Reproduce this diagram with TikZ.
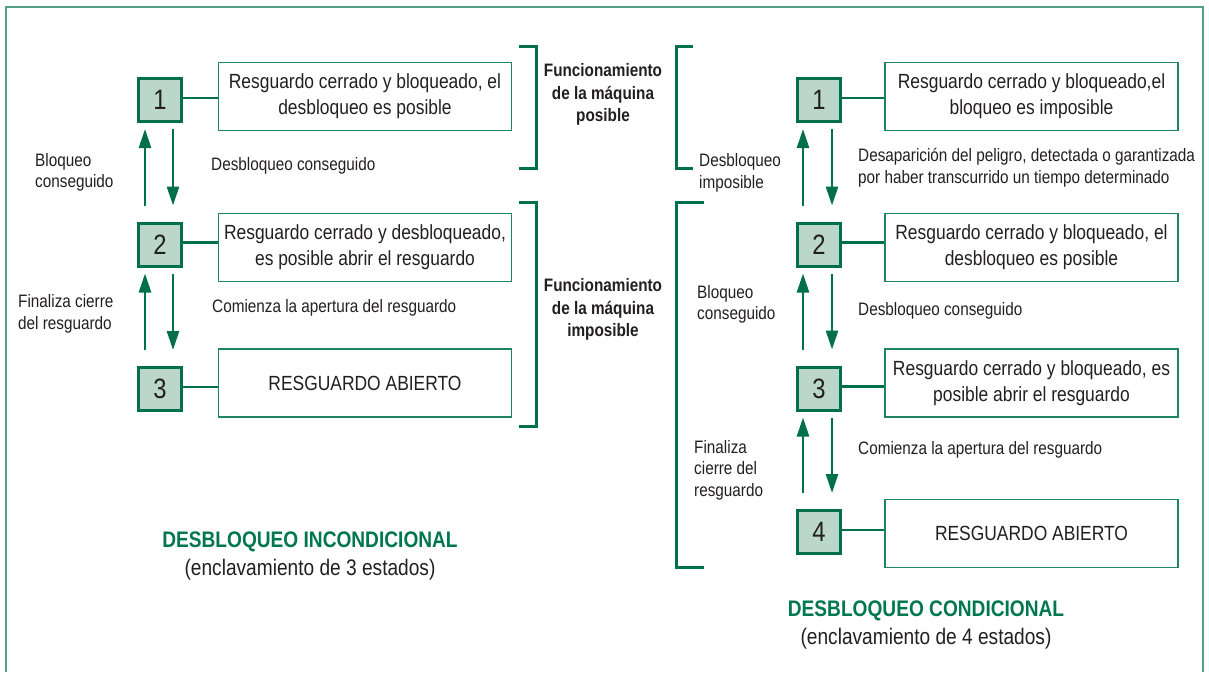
\documentclass[tikz,border=0pt]{standalone}
\usepackage{fontspec}
\setmainfont{Liberation Sans}[FakeStretch=0.85]
\usetikzlibrary{arrows.meta}
\definecolor{dkgreen}{HTML}{00704C}
\definecolor{boxgreen}{HTML}{1E8462}
\definecolor{sqfill}{HTML}{BBD7CB}
\definecolor{framegreen}{HTML}{55A085}
\definecolor{headgreen}{HTML}{00774F}
\definecolor{txt}{HTML}{231F20}
\tikzset{
  sqbox/.style={draw=dkgreen, line width=3pt, fill=sqfill, minimum size=43pt, inner sep=0pt,
    text=txt, font=\fontsize{28}{28}\selectfont},
  statebox/.style={draw=boxgreen, line width=1.8pt, minimum width=293pt, minimum height=68pt,
    inner sep=2pt, align=center, text=txt, font=\fontsize{20.5}{26}\selectfont},
  conn/.style={draw=dkgreen, line width=2.6pt},
  arr/.style={draw=dkgreen, line width=2.6pt, -{Triangle[length=19pt,width=12pt]}},
  bracket/.style={draw=dkgreen, line width=3pt},
  lbl/.style={inner sep=0pt, align=left, text=txt, font=\fontsize{18}{21.5}\selectfont},
  boldlbl/.style={inner sep=0pt, align=center, text=txt, font=\fontsize{18}{22.5}\selectfont\bfseries},
  heading/.style={inner sep=0pt, text=headgreen, font=\fontsize{22.5}{26}\selectfont\bfseries},
  subhead/.style={inner sep=0pt, text=txt, font=\fontsize{22.5}{26}\selectfont}
}
\begin{document}
\begin{tikzpicture}[x=1pt,y=-1pt]
\useasboundingbox (0,0) rectangle (1209,672);
% outer frame
\draw[draw=framegreen, line width=2pt] (6,672) -- (6,7) -- (1203,7) -- (1203,672);

% ---------------- left diagram ----------------
\node[sqbox] (sqL1) at (160,100) {1};
\node[sqbox] (sqL2) at (160,244.5) {2};
\node[sqbox] (sqL3) at (160,389) {3};
\node[statebox] (boxL1) at (365,96.5) {Resguardo cerrado y bloqueado, el\\desbloqueo es posible};
\node[statebox] (boxL2) at (365,247.5) {Resguardo cerrado y desbloqueado,\\es posible abrir el resguardo};
\node[statebox] (boxL3) at (365,383) {RESGUARDO ABIERTO};
\foreach \i in {1,2,3}{
  \draw[conn] ([yshift=2pt]sqL\i.east) -- ([yshift=2pt]sqL\i.east -| boxL\i.west);
}
\draw[arr] ([xshift=-15pt,yshift=16pt]sqL2.north) -- ([xshift=-15pt,yshift=-6pt]sqL1.south);
\draw[arr] ([xshift=13pt,yshift=-6pt]sqL1.south) -- ([xshift=13pt,yshift=16pt]sqL2.north);
\draw[arr] ([xshift=-15pt,yshift=16pt]sqL3.north) -- ([xshift=-15pt,yshift=-6pt]sqL2.south);
\draw[arr] ([xshift=13pt,yshift=-6pt]sqL2.south) -- ([xshift=13pt,yshift=16pt]sqL3.north);

\node[lbl, anchor=west] (lL1) at (35,172.5) {Bloqueo\\conseguido};
\node[lbl, anchor=west] (lL2) at (211,166) {Desbloqueo conseguido};
\node[lbl, anchor=west] (lL3) at (18,314) {Finaliza cierre\\del resguardo};
\node[lbl, anchor=west] (lL4) at (212,308) {Comienza la apertura del resguardo};

\draw[bracket] (519,46) -- (536,46) -- (536,168) -- (519,168);
\draw[bracket] (519,202) -- (536,202) -- (536,426) -- (519,426);
\node[boldlbl] (fp) at (603,94.5) {Funcionamiento\\de la máquina\\posible};
\node[boldlbl] (fi) at (603,309.5) {Funcionamiento\\de la máquina\\imposible};

\node[heading] (hL) at (310,542) {DESBLOQUEO INCONDICIONAL};
\node[subhead] (sL) at (310,570) {(enclavamiento de 3 estados)};

% ---------------- right diagram ----------------
\draw[bracket] (693,46) -- (676,46) -- (676,168) -- (693,168);
\draw[bracket] (704,202) -- (676,202) -- (676,567) -- (704,567);

\node[sqbox] (sqR1) at (819,100) {1};
\node[sqbox] (sqR2) at (819,244.5) {2};
\node[sqbox] (sqR3) at (819,388.5) {3};
\node[sqbox] (sqR4) at (819,532) {4};
\node[statebox] (boxR1) at (1031.5,96.5) {Resguardo cerrado y bloqueado,el\\bloqueo es imposible};
\node[statebox] (boxR2) at (1031.5,247.5) {Resguardo cerrado y bloqueado, el\\desbloqueo es posible};
\node[statebox] (boxR3) at (1031.5,383) {Resguardo cerrado y bloqueado, es\\posible abrir el resguardo};
\node[statebox] (boxR4) at (1031.5,533.5) {RESGUARDO ABIERTO};
\foreach \i in {1,2,3,4}{
  \draw[conn] ([yshift=2pt]sqR\i.east) -- ([yshift=2pt]sqR\i.east -| boxR\i.west);
}
\foreach \a/\b in {1/2,2/3,3/4}{
  \draw[arr] ([xshift=-16pt,yshift=16pt]sqR\b.north) -- ([xshift=-16pt,yshift=-6pt]sqR\a.south);
  \draw[arr] ([xshift=13pt,yshift=-6pt]sqR\a.south) -- ([xshift=13pt,yshift=16pt]sqR\b.north);
}

\node[lbl, anchor=west] (lR1) at (699,173) {Desbloqueo\\imposible};
\node[lbl, anchor=west] (lR2) at (858,167.5) {Desaparición del peligro, detectada o garantizada\\por haber transcurrido un tiempo determinado};
\node[lbl, anchor=west] (lR3) at (697,304.5) {Bloqueo\\conseguido};
\node[lbl, anchor=west] (lR4) at (858,311) {Desbloqueo conseguido};
\node[lbl, anchor=west] (lR5) at (694,470) {Finaliza\\cierre del\\resguardo};
\node[lbl, anchor=west] (lR6) at (858,450) {Comienza la apertura del resguardo};

\node[heading] (hR) at (926,611) {DESBLOQUEO CONDICIONAL};
\node[subhead] (sR) at (926,639) {(enclavamiento de 4 estados)};
\end{tikzpicture}
\end{document}
